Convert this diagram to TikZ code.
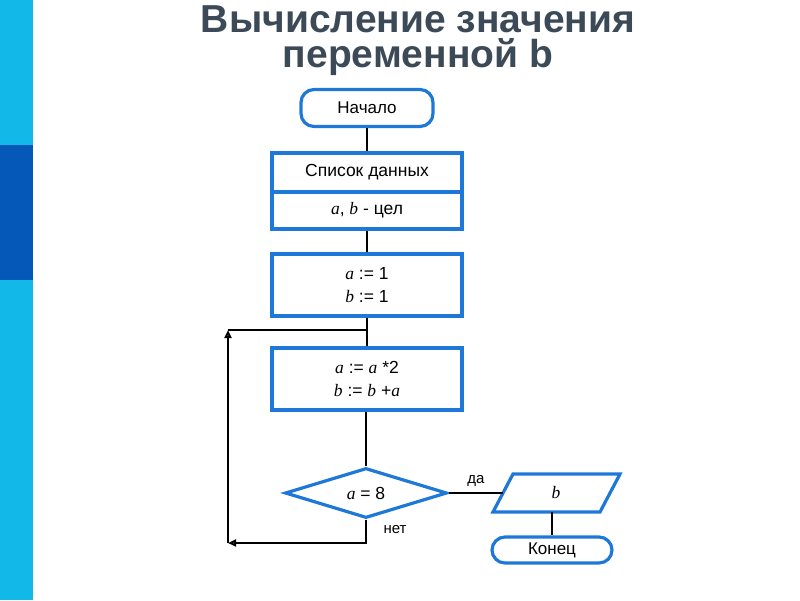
\documentclass[tikz,border=0pt]{standalone}
\usepackage{fontspec}
\setmainfont{Liberation Sans}
\newfontfamily\vserif{Liberation Serif}
\usetikzlibrary{arrows.meta,shapes.geometric}
\newcommand{\vv}[1]{{\vserif\itshape #1}}
\definecolor{bblue}{HTML}{1E78D8}
\definecolor{barl}{HTML}{12B8E8}
\definecolor{bard}{HTML}{0558B8}
\definecolor{ttl}{HTML}{3C4A58}
\tikzset{
  blk/.style={draw=bblue,line width=3.2pt,minimum width=190pt,align=center,font=\fontsize{17.5}{23}\selectfont,inner sep=0pt},
  term/.style={draw=bblue,line width=3.2pt,rounded corners=13pt,font=\fontsize{17}{20}\selectfont},
  ln/.style={line width=2.4pt,black},
  tip/.style={-{Triangle[open,length=8pt,width=7pt]}}
}
\begin{document}
\begin{tikzpicture}[x=1pt,y=-1pt]
\useasboundingbox (0,0) rectangle (800,600);
\fill[barl] (0,0) rectangle (33,600);
\fill[bard] (0,145) rectangle (33,280);
\node[font=\fontsize{39}{42}\bfseries,text=ttl] (t1) at (418,19) {Вычисление значения};
\node[font=\fontsize{39}{42}\bfseries,text=ttl] (t2) at (418,57) {переменной b};
\node[term,minimum width=132pt,minimum height=37pt] (start) at (367,108) {Начало};
\node[blk,minimum height=39pt] (d1) at (367,172.5) {Список данных};
\node[blk,minimum height=37pt] (d2) at (367,210.5) {\vv{a}, \vv{b} - цел};
\node[blk,minimum height=62pt] (s1) at (367,285) {\vv{a} := 1\\\vv{b} := 1};
\node[blk,minimum height=62pt] (s2) at (367,379) {\vv{a} := \vv{a} *2\\\vv{b} := \vv{b} +\vv{a}};
\node[diamond,draw=bblue,line width=3.2pt,minimum width=162pt,minimum height=50pt,inner sep=0pt,aspect=3.2,font=\fontsize{17.5}{20}\selectfont] (c) at (366,493) {\vv{a} = 8};
\draw[bblue,line width=3.2pt,line join=miter] (513,474) -- (620,474) -- (600,512) -- (493,512) -- cycle;
\node[inner sep=0pt,minimum width=110pt,minimum height=36pt,font=\fontsize{17.5}{20}\selectfont] (o) at (556,493) {\vv{b}};
\node[term,minimum width=120pt,minimum height=26pt,inner sep=0pt] (end) at (552,550) {Конец};
\coordinate (oe) at (503,493);
\coordinate (ob) at (552,512);
\coordinate (j) at (367,330);
\coordinate (lt) at (228,330);
\coordinate (lb) at (228,543);
\coordinate (br) at (366,543);
\draw[ln] (start) -- (d1);
\draw[ln] (d2) -- (s1);
\draw[ln] (s1) -- (s2);
\draw[ln] (s2.south -| c.north) -- (c.north);
\draw[ln] (c.east) -- (oe);
\draw[ln] (ob) -- (end);
\draw[ln] (j) -- (lt);
\draw[ln,tip] (lb) -- (lt);
\draw[ln,tip] (c.south) -- (br) -- (lb);
\node[font=\fontsize{15}{17}\selectfont] (yes) at (476,481) {да};
\node[font=\fontsize{15}{17}\selectfont] (no) at (395,530) {нет};
\end{tikzpicture}
\end{document}
